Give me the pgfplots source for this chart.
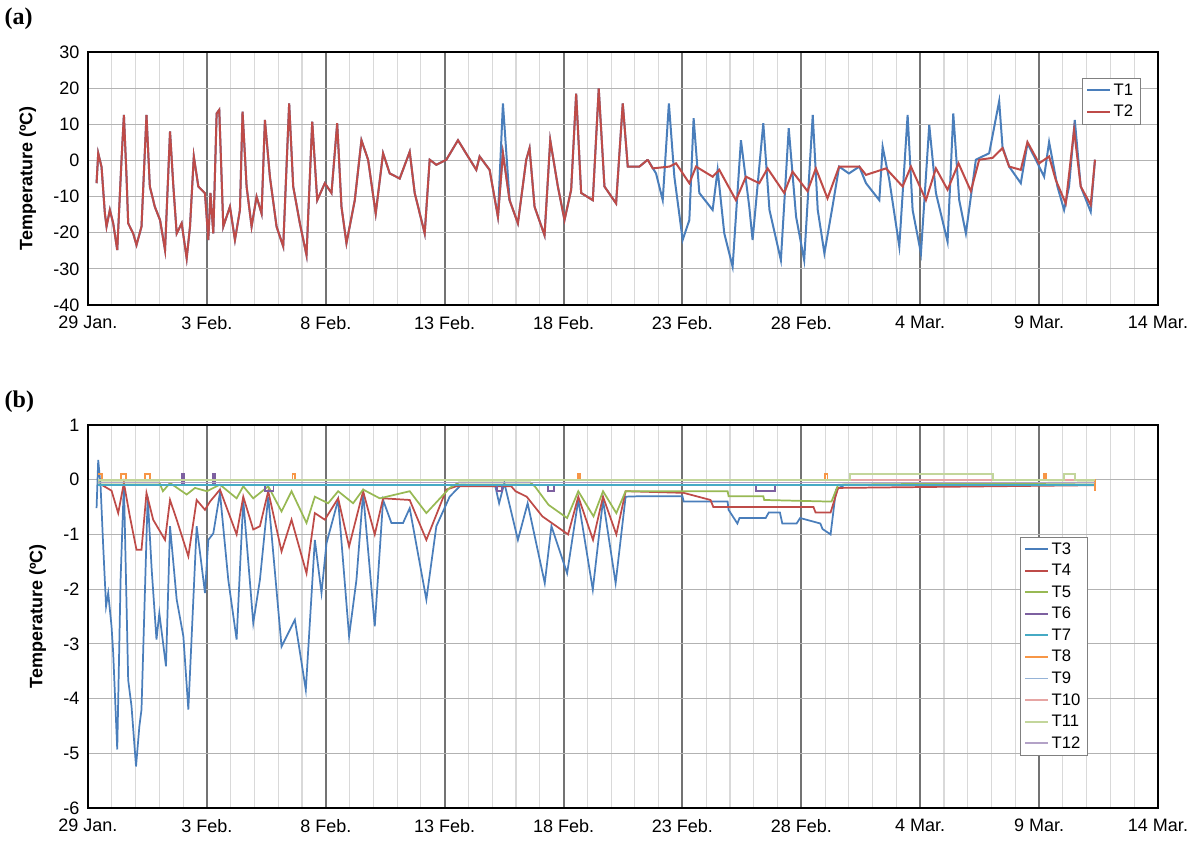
\documentclass[border=0pt]{standalone}
\usepackage{pgfplots}
\pgfplotsset{compat=1.18}
\usepackage{pgfplotstable}
\usepackage{fontspec}
\setmainfont{Liberation Sans}
\newfontfamily\serifb{Liberation Serif}
\definecolor{cT1}{HTML}{4A7EBB}
\definecolor{cT2}{HTML}{BE4B48}
\definecolor{cT5}{HTML}{98B954}
\definecolor{cT6}{HTML}{7D60A0}
\definecolor{cT7}{HTML}{46AAC4}
\definecolor{cT8}{HTML}{F79646}
\definecolor{cT9}{HTML}{95B3D7}
\definecolor{cT10}{HTML}{E6A5A3}
\definecolor{cT11}{HTML}{C3D69B}
\definecolor{cT12}{HTML}{B3A2C7}
\pgfplotstableread{
x y
0.36 -6.3
0.43 2.0
0.57 -1.8
0.71 -14.7
0.78 -18.3
0.92 -13.7
1.06 -17.4
1.23 -24.8
1.41 0.2
1.51 12.6
1.62 -4.5
1.69 -17.4
1.90 -20.2
2.04 -23.4
2.25 -18.3
2.46 12.6
2.60 -7.2
2.81 -12.8
3.03 -16.5
3.24 -24.8
3.45 8.0
3.59 -7.2
3.73 -20.2
3.94 -17.4
4.15 -27.1
4.29 -18.3
4.45 1.1
4.64 -7.2
4.92 -9.1
5.06 -22.0
5.15 -9
5.27 -20.2
5.41 13
5.52 14
5.69 -18.3
5.97 -12.8
6.18 -22
6.39 -13.7
6.50 13.5
6.67 -7.2
6.88 -18.3
7.09 -10.0
7.30 -14.7
7.44 11.2
7.65 -4.5
7.93 -18.3
8.21 -23.8
8.46 15.8
8.63 -7.2
8.91 -17.4
9.19 -26.2
9.43 10.7
9.64 -11.0
9.96 -6.3
10.24 -9
10.48 10.3
10.66 -12.8
10.87 -22.9
11.22 -11
11.50 5.6
11.78 0.2
12.10 -14.7
12.41 2
12.69 -3.6
13.11 -5.0
13.53 2.4
13.74 -9
14.16 -20.2
14.37 0.2
14.65 -1.2
15.07 0.2
15.56 5.6
15.98 1.1
16.33 -2.6
16.47 1.1
16.89 -2.6
17.24 -15.6
17.45 2
17.73 -11
18.08 -17.4
18.43 0.2
18.57 3.4
18.78 -12.8
19.20 -20.7
19.44 5.6
19.76 -7.2
20.04 -16.5
20.32 -8.1
20.53 18.5
20.74 -9
21.23 -11
21.48 19.9
21.72 -7.2
22.21 -11.9
22.49 15.8
22.70 -1.7
23.19 -1.7
23.54 0.2
}\common
\pgfplotstableread{
x y
23.54 0.2
23.89 -3.6
24.17 -11
24.43 15.8
24.66 -4.5
25.01 -22
25.29 -16.5
25.47 11.7
25.71 -9
26.27 -13.7
26.48 -2.6
26.76 -20.2
27.11 -29.4
27.46 5.6
27.81 -12.8
27.95 -22
28.40 10.3
28.66 -13.7
29.14 -27.6
29.47 8.9
29.78 -15.6
30.12 -27.6
30.48 12.6
30.69 -13.7
30.97 -25.7
31.31 -12.8
31.59 -1.7
32.0 -3.6
32.44 -1.7
32.72 -6.3
33.28 -11
33.42 3.8
33.70 -5.4
34.12 -23.8
34.47 12.6
34.68 -13.7
35.03 -25.7
35.38 9.8
35.66 -9
36.15 -22.5
36.39 13
36.64 -11
36.92 -20.2
37.34 0.2
37.90 2
38.32 16.4
38.46 3.8
38.74 -1.7
39.23 -6.3
39.51 4.7
39.86 0.2
40.21 -4.5
40.42 5.1
40.77 -7.2
41.05 -13.7
41.26 -7.2
41.50 11.2
41.75 -7.2
42.17 -14.2
42.35 0.2
}\tonetail
\pgfplotstableread{
x y
23.54 0.2
23.75 -2.2
24.45 -1.7
24.73 -0.8
25.29 -6.3
25.57 -1.7
26.27 -4.5
26.55 -2.6
27.25 -11
27.67 -4.5
28.23 -6.3
28.58 -2.2
29.28 -9
29.63 -3.1
30.26 -8.5
30.61 -2.2
31.10 -10.5
31.59 -1.7
32.44 -1.7
32.72 -4.0
33.56 -2.2
34.26 -7.2
34.61 -1.7
35.24 -11
35.66 -2.2
36.15 -8.1
36.61 -0.8
37.13 -8.5
37.48 0.2
38.04 0.7
38.46 3.4
38.74 -1.7
39.23 -2.6
39.51 5.1
40.0 -0.8
40.42 1.1
40.70 -5.4
41.12 -11.9
41.47 8.4
41.75 -7.2
42.17 -12.3
42.35 0.2
}\ttwotail
\pgfplotstableread{
x y
0.36 -0.52
0.43 0.36
0.53 -0.12
0.64 -1.22
0.76 -2.31
0.85 -2.07
0.99 -2.68
1.06 -3.17
1.23 -4.93
1.37 -1.83
1.51 -0.06
1.69 -3.66
1.83 -4.14
2.02 -5.24
2.16 -4.51
2.25 -4.2
2.51 -0.31
2.68 -1.65
2.88 -2.92
3.0 -2.44
3.28 -3.41
3.45 -0.85
3.73 -2.19
4.01 -2.86
4.22 -4.2
4.57 -0.85
4.73 -1.4
4.92 -2.07
5.06 -1.1
5.27 -0.98
5.55 -0.24
5.90 -1.83
6.25 -2.92
6.53 -0.37
6.95 -2.62
7.23 -1.83
7.58 -0.31
8.14 -3.05
8.70 -2.56
9.16 -3.84
9.54 -1.1
9.82 -2.07
10.03 -1.16
10.52 -0.37
10.98 -2.86
11.29 -1.83
11.57 -0.24
12.06 -2.68
12.41 -0.37
12.76 -0.79
13.25 -0.79
13.53 -0.52
14.23 -2.19
14.65 -0.85
15.21 -0.31
15.70 -0.09
17.13 -0.12
17.29 -0.43
17.51 -0.06
18.08 -1.1
18.49 -0.43
19.21 -1.89
19.49 -0.85
20.15 -1.71
20.62 -0.37
21.23 -2.01
21.66 -0.37
22.19 -1.89
22.61 -0.31
23.35 -0.3
25.0 -0.3
25.05 -0.4
26.9 -0.4
26.94 -0.55
27.31 -0.8
27.4 -0.7
28.5 -0.7
28.63 -0.6
29.1 -0.6
29.20 -0.8
29.8 -0.8
29.95 -0.7
30.8 -0.8
30.89 -0.9
31.23 -1.0
31.46 -0.18
31.84 -0.09
42.35 -0.09
}\tthree
\pgfplotstableread{
x y
0.6 -0.1
0.99 -0.2
1.27 -0.61
1.51 -0.06
1.76 -0.67
2.04 -1.28
2.25 -1.28
2.46 -0.24
2.74 -0.73
3.24 -1.1
3.45 -0.37
3.73 -0.73
4.22 -1.4
4.57 -0.37
4.92 -0.55
5.13 -0.4
5.55 -0.18
6.25 -1.0
6.53 -0.31
6.95 -0.91
7.23 -0.85
7.58 -0.21
8.14 -1.31
8.56 -0.73
9.19 -1.71
9.54 -0.61
9.96 -0.73
10.52 -0.34
10.98 -1.22
11.57 -0.21
12.06 -1.0
12.41 -0.34
13.53 -0.37
14.23 -1.1
15.07 -0.18
15.49 -0.12
17.8 -0.12
17.98 -0.21
18.45 -0.31
19.11 -0.67
20.19 -1.0
20.62 -0.31
21.24 -1.1
21.66 -0.31
22.22 -1.0
22.61 -0.21
25.05 -0.24
26.18 -0.37
26.3 -0.5
30.51 -0.5
30.6 -0.6
31.23 -0.6
31.55 -0.15
42.35 -0.1
}\tfour
\pgfplotstableread{
x y
0.4 -0.05
3.0 -0.05
3.15 -0.21
3.45 -0.06
4.15 -0.27
4.5 -0.15
5.0 -0.21
5.55 -0.09
6.25 -0.34
6.53 -0.12
6.95 -0.34
7.58 -0.12
8.14 -0.58
8.56 -0.21
9.19 -0.79
9.54 -0.31
10.1 -0.43
10.52 -0.21
11.15 -0.43
11.57 -0.18
12.27 -0.34
13.53 -0.21
14.23 -0.61
15.21 -0.15
15.6 -0.05
18.6 -0.05
18.79 -0.12
19.37 -0.46
20.15 -0.7
20.62 -0.21
21.26 -0.67
21.66 -0.21
22.22 -0.61
22.61 -0.21
26.9 -0.21
26.94 -0.3
28.4 -0.3
28.44 -0.37
31.27 -0.4
31.55 -0.09
42.35 -0.05
}\tfive
\begin{document}
\begin{tikzpicture}
\useasboundingbox (0,0) rectangle (900pt,-633pt);
\pgfplotsset{
  every axis/.append style={
    scale only axis, width=802.5pt,
    xmin=0, xmax=45,
    xtick={0,5,...,45},
    xticklabels={29 Jan.,3 Feb.,8 Feb.,13 Feb.,18 Feb.,23 Feb.,28 Feb.,4 Mar.,9 Mar.,14 Mar.},
    minor x tick num=4,
    xmajorgrids, xminorgrids, ymajorgrids,
    major x grid style={draw=black!55, line width=1.5pt},
    minor x grid style={draw=black!15, line width=0.8pt},
    major y grid style={draw=black!30, line width=0.8pt},
    axis line style={line width=1.5pt},
    tick style={draw=none},
    ticklabel style={font=\fontsize{13.5}{16}\selectfont},
    xticklabel style={yshift=-5pt},
    yticklabel style={xshift=-3pt},
    /pgf/number format/assume math mode=true,
    ylabel={\bfseries Temperature (ºC)},
    ylabel style={font=\fontsize{13.5}{16}\selectfont, yshift=6pt},
    legend cell align=left,
    legend style={font=\fontsize{12.5}{15}\selectfont, draw=black!50, row sep=2pt},
  }
}
\begin{axis}[at={(66pt,-228.75pt)}, anchor=south west, height=189.75pt,
  ymin=-40, ymax=30, ytick={-40,-30,...,30},
  legend style={at={(0.929,0.897)}, anchor=north west}]
\addplot[cT1, line width=1.5pt] table {\common};
\addlegendentry{T1}
\addplot[cT1, line width=1.5pt, forget plot] table {\tonetail};
\addplot[cT1, line width=1.5pt, forget plot] coordinates {(17.24,-15.6)(17.45,15.8)(17.73,-11)};
\addplot[cT2, line width=1.5pt] table {\common};
\addlegendentry{T2}
\addplot[cT2, line width=1.5pt, forget plot] table {\ttwotail};
\end{axis}
\begin{axis}[at={(66pt,-606pt)}, anchor=south west, height=287.25pt,
  ymin=-6, ymax=1, ytick={-6,-5,...,1},
  legend style={at={(0.871,0.708)}, anchor=north west}]
\addplot[cT1, line width=1.3pt] table {\tthree};
\addlegendentry{T3}
\addplot[cT2, line width=1.3pt] table {\tfour};
\addlegendentry{T4}
\addplot[cT5, line width=1.3pt] table {\tfive};
\addlegendentry{T5}
\addplot[cT6, line width=1.3pt, const plot] coordinates {(0.4,-0.1)(3.9,-0.1)(3.95,0.1)(4.05,-0.1)(5.2,-0.1)(5.25,0.1)(5.35,-0.1)(7.4,-0.1)(7.45,-0.2)(7.8,-0.1)(17.0,-0.1)(17.2,-0.2)(17.4,-0.1)(19.3,-0.1)(19.35,-0.2)(19.6,-0.1)(28.0,-0.1)(28.1,-0.2)(28.9,-0.1)(42.35,-0.1)};
\addlegendentry{T6}
\addplot[cT7, line width=1.5pt] coordinates {(0.4,-0.1)(42.35,-0.1)};
\addlegendentry{T7}
\addplot[cT8, line width=1.3pt, const plot] coordinates {(0.4,0.1)(0.6,0)(1.4,0.1)(1.6,0)(2.4,0.1)(2.6,0)(8.6,0.1)(8.7,0)(20.6,0.1)(20.7,0)(31.0,0.1)(31.1,0)(40.2,0.1)(40.3,0)(42.3,0)(42.35,-0.2)};
\addlegendentry{T8}
\addplot[cT9, line width=1.3pt] coordinates {(0.4,-0.05)(42.35,-0.05)};
\addlegendentry{T9}
\addplot[cT10, line width=1.3pt] coordinates {(0.4,0)(42.35,0)};
\addlegendentry{T10}
\addplot[cT11, line width=1.3pt, const plot] coordinates {(0.4,0)(32.0,0)(32.05,0.1)(38.0,0.1)(38.05,0)(41.0,0)(41.05,0.1)(41.5,0)(42.35,0)};
\addlegendentry{T11}
\addplot[cT12, line width=1.3pt] coordinates {(0.4,-0.05)(42.35,-0.05)};
\addlegendentry{T12}
\end{axis}
\node[anchor=west, font=\serifb\bfseries\fontsize{18}{20}\selectfont] at (0pt,-14pt) {(a)};
\node[anchor=west, font=\serifb\bfseries\fontsize{18}{20}\selectfont] at (0pt,-301pt) {(b)};
\end{tikzpicture}
\end{document}
